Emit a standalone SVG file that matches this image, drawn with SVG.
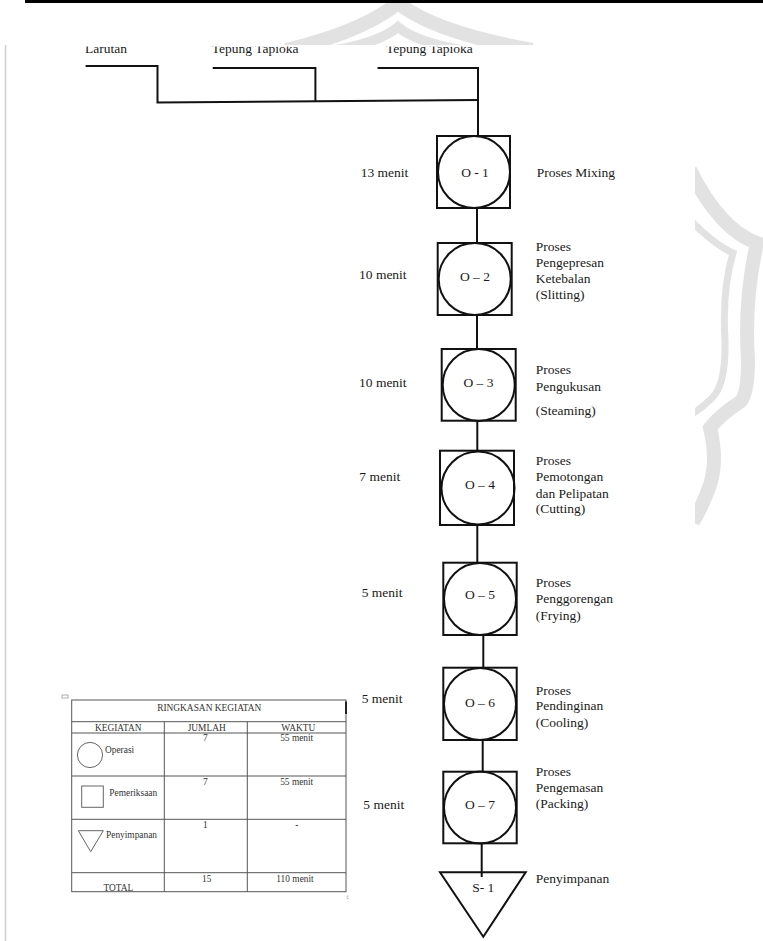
<svg xmlns="http://www.w3.org/2000/svg" width="763" height="941" viewBox="0 0 763 941">
  <style>
    .lbl { font-family: "Liberation Serif", "Times New Roman", serif; font-size: 13.5px; fill: #1a1a1a; }
    .mid { text-anchor: middle; }
    .shape { fill: none; stroke: #111; stroke-width: 2; }
    .conn { fill: none; stroke: #111; stroke-width: 2; }
    .tbl { fill: none; stroke: #555; stroke-width: 1; }
    .tt { font-family: "Liberation Serif", "Times New Roman", serif; font-size: 9.4px; fill: #333; }
    .wm { fill: none; stroke: #e2e2e2; stroke-linecap: butt; }
  </style>
  <defs>
    <clipPath id="wmClip">
      <rect x="0" y="0" width="763" height="45"/>
      <rect x="695" y="45" width="68" height="896"/>
    </clipPath>
    <clipPath id="topText">
      <rect x="0" y="46.5" width="763" height="40"/>
    </clipPath>
  </defs>

  <rect width="763" height="941" fill="#fff"/>

  <!-- background emblem -->
  <g id="emblem" clip-path="url(#wmClip)">
    <path class="wm" stroke-width="14" d="M286,50 Q362,32 398,3 Q434,32 532,50"/>
    <path class="wm" stroke-width="10" d="M336,50 Q380,42 398,27 Q416,42 462,50"/>
    <path class="wm" stroke-width="14" d="M690,170 Q720,230 757,243 Q744,300 748,360 Q748,395 740,402 Q720,415 710,428 Q718,460 710,485 Q703,505 693,522"/>
    <path class="wm" stroke-width="7" d="M690,220 Q715,245 733,253 Q722,290 725,340 Q726,385 712,398 Q702,408 692,414"/>
  </g>

  <!-- page rules -->
  <line x1="25" y1="1.5" x2="763" y2="1.5" stroke="#000" stroke-width="3"/>
  <line x1="5.5" y1="45" x2="5.5" y2="941" stroke="#cfcfcf" stroke-width="1.5"/>

  <!-- raw material labels -->
  <g id="inputs" clip-path="url(#topText)">
    <text class="lbl" x="85" y="52.5">Larutan</text>
    <text class="lbl" x="211.7" y="52.5">Tepung Tapioka</text>
    <text class="lbl" x="386" y="52.5">Tepung Tapioka</text>
  </g>

  <!-- connectors -->
  <g id="connectors">
    <polyline class="conn" points="85.6,66 157.5,66 157.5,102.5 478,100"/>
    <polyline class="conn" points="212.7,68 315.4,68 315.4,102"/>
    <polyline class="conn" points="377.5,68 478,68 478,136"/>
    <line class="conn" x1="477" y1="208" x2="477" y2="243"/>
    <line class="conn" x1="477" y1="315" x2="477" y2="349"/>
    <line class="conn" x1="477.3" y1="420.7" x2="477.3" y2="450.7"/>
    <line class="conn" x1="477.3" y1="525" x2="477.3" y2="562.7"/>
    <line class="conn" x1="483.3" y1="635" x2="483.3" y2="667.7"/>
    <line class="conn" x1="482.7" y1="740" x2="482.7" y2="771.7"/>
    <line class="conn" x1="481.7" y1="843.3" x2="481.7" y2="877"/>
  </g>

  <!-- process steps -->
  <g id="O1">
    <rect class="shape" x="437" y="136" width="73" height="72"/>
    <circle class="shape" cx="474" cy="172" r="36"/>
    <text class="lbl mid" x="475" y="177">O - 1</text>
    <text class="lbl" x="360.7" y="177">13 menit</text>
    <text class="lbl" x="536.7" y="177">Proses Mixing</text>
  </g>

  <g id="O2">
    <rect class="shape" x="437.7" y="243" width="74" height="72"/>
    <circle class="shape" cx="474.7" cy="279" r="36"/>
    <text class="lbl mid" x="475" y="281">O – 2</text>
    <text class="lbl" x="359" y="279">10 menit</text>
    <text class="lbl" x="535.7" y="251">Proses</text>
    <text class="lbl" x="535.7" y="267">Pengepresan</text>
    <text class="lbl" x="535.7" y="283">Ketebalan</text>
    <text class="lbl" x="535.7" y="299">(Slitting)</text>
  </g>

  <g id="O3">
    <rect class="shape" x="441.7" y="349" width="74" height="71.7"/>
    <circle class="shape" cx="478.7" cy="385" r="36"/>
    <text class="lbl mid" x="478.5" y="387">O – 3</text>
    <text class="lbl" x="359" y="387">10 menit</text>
    <text class="lbl" x="535.7" y="374">Proses</text>
    <text class="lbl" x="535.7" y="391">Pengukusan</text>
    <text class="lbl" x="535.7" y="415">(Steaming)</text>
  </g>

  <g id="O4">
    <rect class="shape" x="440" y="450.7" width="74" height="74.3"/>
    <circle class="shape" cx="478" cy="488" r="36.5"/>
    <text class="lbl mid" x="480" y="489">O – 4</text>
    <text class="lbl" x="359.3" y="481">7 menit</text>
    <text class="lbl" x="535.7" y="465">Proses</text>
    <text class="lbl" x="535.7" y="481">Pemotongan</text>
    <text class="lbl" x="535.7" y="498">dan Pelipatan</text>
    <text class="lbl" x="535.7" y="513">(Cutting)</text>
  </g>

  <g id="O5">
    <rect class="shape" x="443.3" y="562.7" width="73.4" height="72.3"/>
    <circle class="shape" cx="480" cy="599" r="36"/>
    <text class="lbl mid" x="480" y="599">O – 5</text>
    <text class="lbl" x="361.7" y="597">5 menit</text>
    <text class="lbl" x="535.7" y="587">Proses</text>
    <text class="lbl" x="535.7" y="603">Penggorengan</text>
    <text class="lbl" x="535.7" y="620">(Frying)</text>
  </g>

  <g id="O6">
    <rect class="shape" x="443.3" y="667.7" width="73.4" height="72.3"/>
    <circle class="shape" cx="480" cy="704" r="36"/>
    <text class="lbl mid" x="480" y="707">O – 6</text>
    <text class="lbl" x="361.7" y="703">5 menit</text>
    <text class="lbl" x="535.7" y="695">Proses</text>
    <text class="lbl" x="535.7" y="710">Pendinginan</text>
    <text class="lbl" x="535.7" y="727">(Cooling)</text>
  </g>

  <g id="O7">
    <rect class="shape" x="443.3" y="771.7" width="73.4" height="71.6"/>
    <circle class="shape" cx="480" cy="807.5" r="36"/>
    <text class="lbl mid" x="480" y="808.5">O – 7</text>
    <text class="lbl" x="363.3" y="808.5">5 menit</text>
    <text class="lbl" x="535.7" y="776">Proses</text>
    <text class="lbl" x="535.7" y="792">Pengemasan</text>
    <text class="lbl" x="535.7" y="808">(Packing)</text>
  </g>

  <g id="S1">
    <polygon class="shape" points="440,872.3 525.7,872.3 483.3,936.7"/>
    <text class="lbl mid" x="483.3" y="891.5">S- 1</text>
    <text class="lbl" x="535.7" y="882.5">Penyimpanan</text>
  </g>

  <!-- activity summary table -->
  <g id="summary">
    <rect x="62" y="695" width="6" height="3" fill="none" stroke="#999" stroke-width="0.8"/>
    <rect class="tbl" x="71.7" y="700" width="274.3" height="191.7"/>
    <line x1="346" y1="701.5" x2="346" y2="714" stroke="#222" stroke-width="2"/>
    <line class="tbl" x1="71.7" y1="721.7" x2="346" y2="721.7"/>
    <line class="tbl" x1="71.7" y1="733" x2="346" y2="733"/>
    <line class="tbl" x1="71.7" y1="776" x2="346" y2="776"/>
    <line class="tbl" x1="71.7" y1="819.3" x2="346" y2="819.3"/>
    <line class="tbl" x1="71.7" y1="872.7" x2="346" y2="872.7"/>
    <line class="tbl" x1="164.3" y1="721.7" x2="164.3" y2="891.7"/>
    <line class="tbl" x1="247.3" y1="721.7" x2="247.3" y2="891.7"/>
    <path d="M349,896 q-2,-1 -2,1.5 q0,2 2,1" fill="none" stroke="#aaa" stroke-width="0.7"/>

    <text class="tt mid" x="209.3" y="710.5">RINGKASAN KEGIATAN</text>
    <text class="tt mid" x="118.3" y="731.3">KEGIATAN</text>
    <text class="tt mid" x="206.7" y="731.3">JUMLAH</text>
    <text class="tt mid" x="298.3" y="731.3">WAKTU</text>

    <circle cx="90" cy="755" r="12.6" fill="none" stroke="#666" stroke-width="1"/>
    <text class="tt" x="105" y="753">Operasi</text>
    <text class="tt mid" x="205.3" y="740.5">7</text>
    <text class="tt mid" x="296.7" y="741">55 menit</text>

    <rect x="81.7" y="786" width="21.6" height="21.3" fill="none" stroke="#666" stroke-width="1"/>
    <text class="tt" x="109.3" y="796">Pemeriksaan</text>
    <text class="tt mid" x="205.3" y="784.5">7</text>
    <text class="tt mid" x="296.7" y="784.5">55 menit</text>

    <polygon points="78.3,830.7 103.3,830.7 90.7,851.7" fill="none" stroke="#666" stroke-width="1"/>
    <text class="tt" x="106" y="838">Penyimpanan</text>
    <text class="tt mid" x="205.3" y="828">1</text>
    <text class="tt mid" x="296.7" y="828">-</text>

    <text class="tt mid" x="118.3" y="891">TOTAL</text>
    <text class="tt mid" x="206.7" y="881.5">15</text>
    <text class="tt mid" x="295" y="881.5">110 menit</text>
  </g>
</svg>
